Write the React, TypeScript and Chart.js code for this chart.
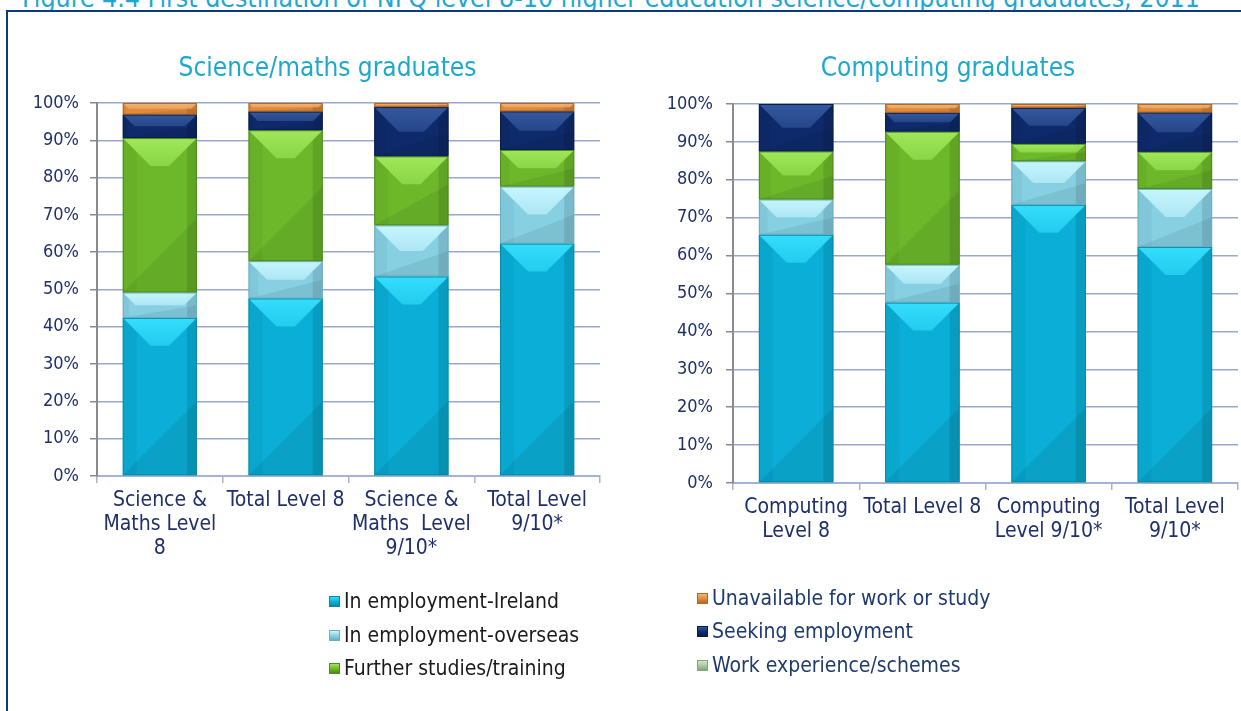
import React, { useEffect, useRef } from 'react';
import { Chart, registerables } from 'chart.js';

Chart.register(...registerables);

const FONT = "'DejaVu Sans Condensed', 'DejaVu Sans', sans-serif";

const captionText = 'Figure 4.4 First destination of NFQ level 8-10 higher education science/computing graduates, 2011';
const scienceTitle = 'Science/maths graduates';
const computingTitle = 'Computing graduates';

const scienceCategories = [['Science &', 'Maths Level', '8'], ['Total Level 8'], ['Science &', 'Maths  Level', '9/10*'], ['Total Level', '9/10*']];
const computingCategories = [['Computing', 'Level 8'], ['Total Level 8'], ['Computing', 'Level 9/10*'], ['Total Level', '9/10*']];

const seriesNames = [
  'In employment-Ireland',
  'In employment-overseas',
  'Further studies/training',
  'Work experience/schemes',
  'Seeking employment',
  'Unavailable for work or study',
];

const scienceIreland = [42.4, 47.6, 53.5, 62.3];
const scienceOverseas = [6.8, 10.0, 13.7, 15.3];
const scienceFurther = [41.4, 35.1, 18.5, 9.8];
const scienceWorkExp = [0, 0, 0, 0];
const scienceSeeking = [6.3, 5.0, 13.2, 10.35];
const scienceUnavailable = [3.1, 2.3, 1.1, 2.25];

const computingIreland = [65.5, 47.6, 73.4, 62.3];
const computingOverseas = [9.3, 10.0, 11.5, 15.3];
const computingFurther = [12.7, 35.1, 4.6, 9.8];
const computingWorkExp = [0, 0, 0, 0];
const computingSeeking = [12.5, 5.0, 9.5, 10.35];
const computingUnavailable = [0, 2.3, 1.0, 2.25];

const yTickValues = [0, 10, 20, 30, 40, 50, 60, 70, 80, 90, 100];

const seriesColors = ['#0aaed6', '#86d0e2', '#6cb82a', '#a9c79c', '#0e2a6a', '#e08a3a'];
const seriesBorders = ['#0a89a8', '#6aaec0', '#4f8a1e', '#86a47a', '#0a1d4a', '#b06a28'];
const seriesLight = ['#34defc', '#c6f6ff', '#9ee85a', '#d0e8c4', '#35589e', '#f5b372'];

const bevelPlugin = {
  id: 'bevel',
  afterDatasetsDraw(chart: any) {
    const ctx = chart.ctx;
    chart.data.datasets.forEach((ds: any, i: number) => {
      const meta = chart.getDatasetMeta(i);
      meta.data.forEach((el: any) => {
        const p = el.getProps(['x', 'y', 'base', 'width'], true);
        const l = p.x - p.width / 2;
        const r = p.x + p.width / 2;
        const t = Math.min(p.y, p.base);
        const b = Math.max(p.y, p.base);
        const h = b - t;
        const w = p.width;
        if (h < 1) return;
        const d = Math.min(28, h / 2, w / 2);
        ctx.save();
        // lower-right diagonal shade
        ctx.beginPath();
        const top2 = Math.max(t + d, b - w);
        ctx.moveTo(l, b); ctx.lineTo(r, b); ctx.lineTo(r, top2); ctx.closePath();
        ctx.fillStyle = 'rgba(0,0,0,0.07)';
        ctx.fill();
        // right side shade
        ctx.fillStyle = 'rgba(0,0,0,0.10)';
        ctx.fillRect(r - Math.min(10, w * 0.14), t, Math.min(10, w * 0.14), h);
        // top bevel (light)
        const g = ctx.createLinearGradient(0, t, 0, t + d);
        g.addColorStop(0, seriesLight[i]);
        g.addColorStop(1, seriesLight[i] + '99');
        ctx.beginPath();
        ctx.moveTo(l, t); ctx.lineTo(r, t); ctx.lineTo(r - d, t + d); ctx.lineTo(l + d, t + d); ctx.closePath();
        ctx.fillStyle = g;
        ctx.fill();
        // left bevel
        ctx.beginPath();
        ctx.moveTo(l, t); ctx.lineTo(l + d * 0.5, t + d * 0.5); ctx.lineTo(l + d * 0.5, b); ctx.lineTo(l, b); ctx.closePath();
        ctx.fillStyle = 'rgba(0,0,0,0.04)';
        ctx.fill();
        // outline
        ctx.strokeStyle = seriesBorders[i];
        ctx.lineWidth = 1;
        ctx.strokeRect(l + 0.5, t + 0.5, w - 1, h - 1);
        ctx.restore();
      });
    });
  },
};

function makeDatasets(series: number[][]) {
  return series.map((data, i) => ({
    label: seriesNames[i],
    data,
    backgroundColor: seriesColors[i],
    borderWidth: 0,
    barPercentage: 0.59,
    categoryPercentage: 1,
    stack: 's',
  }));
}

type PanelProps = {
  left: number;
  width: number;
  height: number;
  categories: string[][];
  series: number[][];
  padTop: number;
  padRight: number;
  yWidth: number;
  xHeight: number;
  tickPad: number;
};

function ChartPanel(props: PanelProps) {
  const ref = useRef<HTMLCanvasElement | null>(null);
  useEffect(() => {
    if (!ref.current) return;
    const chart = new Chart(ref.current, {
      type: 'bar',
      data: { labels: props.categories as any, datasets: makeDatasets(props.series) as any },
      plugins: [bevelPlugin as any],
      options: {
        animation: false,
        responsive: false,
        devicePixelRatio: 1,
        layout: { padding: { top: props.padTop, right: props.padRight, left: 0, bottom: 0 } },
        plugins: { legend: { display: false }, tooltip: { enabled: false }, title: { display: false } },
        scales: {
          x: {
            stacked: true,
            offset: true,
            grid: { display: true, drawOnChartArea: false, drawTicks: true, tickLength: 7, color: '#a4b2d4', lineWidth: 1.5, offset: true },
            border: { display: true, color: '#a4b2d4', width: 2 },
            ticks: {
              color: '#1f2f6b',
              font: { family: FONT, size: 21, lineHeight: 1.143 },
              padding: 6,
              maxRotation: 0,
              minRotation: 0,
              autoSkip: false,
            },
            afterFit: (s: any) => { s.height = props.xHeight; },
          },
          y: {
            stacked: true,
            min: 0,
            max: 100,
            afterBuildTicks: (s: any) => { s.ticks = yTickValues.map((v) => ({ value: v })); },
            grid: { color: '#98a8cc', lineWidth: 1.5, drawTicks: true, tickLength: 7, tickColor: '#8a8a8a' },
            border: { display: true, color: '#8a8a8a', width: 2 },
            ticks: {
              color: '#1f2f6b',
              font: { family: FONT, size: 18 },
              padding: props.tickPad,
              callback: (v: any) => v + '%',
            },
            afterFit: (s: any) => { s.width = props.yWidth; },
          },
        },
      } as any,
    });
    return () => chart.destroy();
  }, []);
  return (
    <div style={{ position: 'absolute', left: props.left, top: 0, width: props.width, height: props.height }}>
      <canvas ref={ref} width={props.width} height={props.height} style={{ width: props.width, height: props.height, display: 'block' }} />
    </div>
  );
}

function Marker({ color, light, border }: { color: string; light: string; border: string }) {
  return (
    <div
      style={{
        width: 11,
        height: 11,
        boxSizing: 'border-box',
        border: `1px solid ${border}`,
        background: `linear-gradient(180deg, ${light} 0%, ${color} 55%, ${border} 100%)`,
        display: 'inline-block',
      }}
    />
  );
}

const legendLeft = [0, 1, 2];
const legendRight = [5, 4, 3];

export default function App() {
  useEffect(() => {
    document.body.style.margin = '0';
  }, []);

  const legendItem = (idx: number, x: number, cy: number, color: string) => (
    <div key={idx} style={{ position: 'absolute', left: x, top: cy - 12, height: 24, display: 'flex', alignItems: 'center', whiteSpace: 'nowrap' }}>
      <Marker color={seriesColors[idx]} light={seriesLight[idx]} border={seriesBorders[idx]} />
      <span style={{ marginLeft: 4, fontSize: 21, lineHeight: '24px', color }}>{seriesNames[idx]}</span>
    </div>
  );

  return (
    <div style={{ position: 'relative', width: 1241, height: 711, overflow: 'hidden', background: '#ffffff', fontFamily: FONT }}>
      <div style={{ position: 'absolute', left: 22, top: -17, fontSize: 26.5, lineHeight: '30px', color: '#1fa7d2', whiteSpace: 'nowrap' }}>{captionText}</div>
      <div style={{ position: 'absolute', left: 0, top: 0, width: 1241, height: 10, background: '#ffffff', opacity: 0 }} />
      <div style={{ position: 'absolute', left: 6, top: 10, width: 1300, height: 800, borderTop: '2px solid #0d3a7e', borderLeft: '2px solid #0d3a7e', background: '#ffffff' }} />

      <ChartPanel
        left={0}
        width={615}
        height={600}
        categories={scienceCategories}
        series={[scienceIreland, scienceOverseas, scienceFurther, scienceWorkExp, scienceSeeking, scienceUnavailable]}
        padTop={103}
        padRight={15}
        yWidth={97}
        xHeight={124}
        tickPad={11}
      />
      <ChartPanel
        left={620}
        width={621}
        height={600}
        categories={computingCategories}
        series={[computingIreland, computingOverseas, computingFurther, computingWorkExp, computingSeeking, computingUnavailable]}
        padTop={104}
        padRight={3}
        yWidth={113}
        xHeight={117}
        tickPad={13}
      />

      <div style={{ position: 'absolute', left: 27.5, width: 600, top: 52, fontSize: 26, lineHeight: '30px', textAlign: 'center', color: '#1ea8cc' }}>{scienceTitle}</div>
      <div style={{ position: 'absolute', left: 648, width: 600, top: 52, fontSize: 26, lineHeight: '30px', textAlign: 'center', color: '#1ea8cc' }}>{computingTitle}</div>

      {legendLeft.map((idx, k) => legendItem(idx, 329, [601, 635, 668][k], '#1a1a1a'))}
      {legendRight.map((idx, k) => legendItem(idx, 697, [598, 631, 665][k], '#1f3a6e'))}
    </div>
  );
}
